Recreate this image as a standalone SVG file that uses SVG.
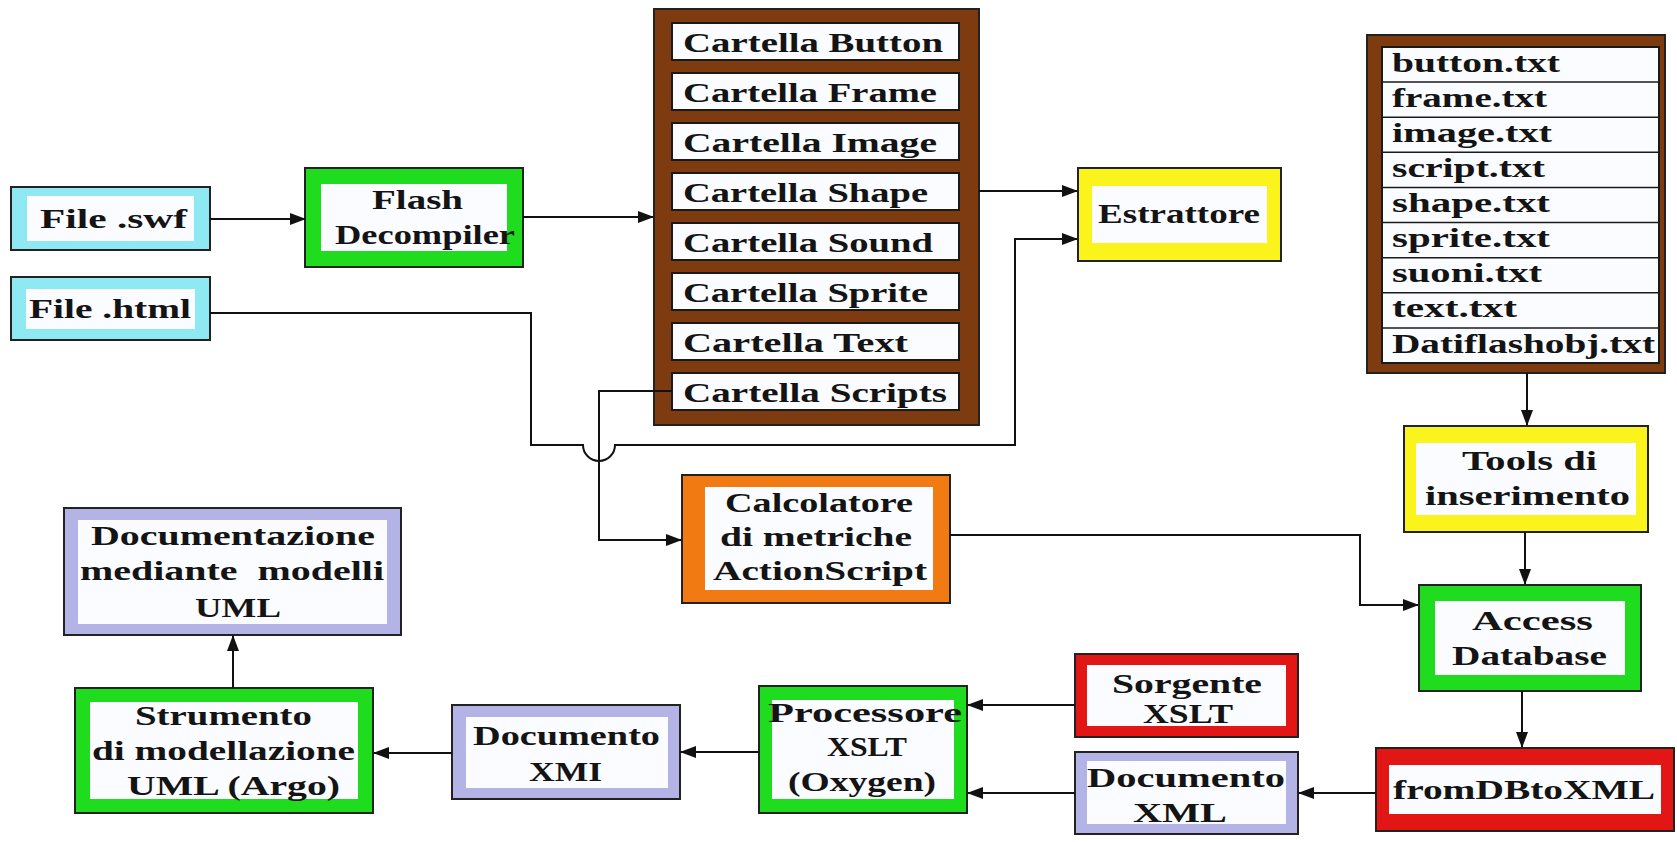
<svg xmlns="http://www.w3.org/2000/svg" width="1677" height="842" viewBox="0 0 1677 842">
  <defs>
    <marker id="arrow" markerUnits="userSpaceOnUse" markerWidth="16" markerHeight="12" refX="15" refY="6" orient="auto">
      <path d="M0,0 L16,6 L0,12 z" fill="#111"/>
    </marker>
    <style>
      .t { font-family: "Liberation Serif", "Times New Roman", serif; font-weight: bold; font-size: 27px; fill: #141414; }
      .frame { stroke: #222; stroke-width: 2; }
      .in { fill: #fbfcff; }
      .cyan { fill: #8ee9f2; }
      .green { fill: #1fdc1f; }
      .yellow { fill: #fbf41c; }
      .red { fill: #e31616; }
      .lav { fill: #b3b3e6; }
      .orange { fill: #f27a12; }
      .brown { fill: #7d3b0f; }
      .row { fill: #fbfcff; stroke: #1a1a1a; stroke-width: 2; }
      .sep { stroke: #1a1a1a; stroke-width: 1.5; }
      .wire { fill: none; stroke: #111; stroke-width: 2; }
    </style>
  </defs>

  <rect width="1677" height="842" fill="#ffffff"/>

  <!-- Sources -->
  <g id="file-swf">
    <rect class="frame cyan" x="11" y="187" width="199" height="63"/>
    <rect class="in" x="27" y="196" width="167" height="45"/>
    <text class="t" x="40" y="228" textLength="147" lengthAdjust="spacingAndGlyphs">File .swf</text>
  </g>

  <g id="file-html">
    <rect class="frame cyan" x="11" y="277" width="199" height="63"/>
    <rect class="in" x="26" y="289" width="169" height="40"/>
    <text class="t" x="29" y="318" textLength="162" lengthAdjust="spacingAndGlyphs">File .html</text>
  </g>

  <g id="flash-decompiler">
    <rect class="frame green" x="305" y="168" width="218" height="99"/>
    <rect class="in" x="321" y="184" width="186" height="67"/>
    <text class="t" x="372" y="209" textLength="91" lengthAdjust="spacingAndGlyphs">Flash</text>
    <text class="t" x="335" y="244" textLength="180" lengthAdjust="spacingAndGlyphs">Decompiler</text>
  </g>

  <!-- Folder list produced by the decompiler -->
  <g id="cartelle">
    <rect class="frame brown" x="654" y="9" width="325" height="416"/>
    <rect class="row" x="672" y="23" width="287" height="37"/>
    <rect class="row" x="672" y="73" width="287" height="37"/>
    <rect class="row" x="672" y="123" width="287" height="37"/>
    <rect class="row" x="672" y="173" width="287" height="37"/>
    <rect class="row" x="672" y="223" width="287" height="37"/>
    <rect class="row" x="672" y="273" width="287" height="37"/>
    <rect class="row" x="672" y="323" width="287" height="37"/>
    <rect class="row" x="672" y="373" width="287" height="37"/>
    <text class="t" x="683" y="52" textLength="260" lengthAdjust="spacingAndGlyphs">Cartella Button</text>
    <text class="t" x="683" y="102" textLength="254" lengthAdjust="spacingAndGlyphs">Cartella Frame</text>
    <text class="t" x="683" y="152" textLength="254" lengthAdjust="spacingAndGlyphs">Cartella Image</text>
    <text class="t" x="683" y="202" textLength="245" lengthAdjust="spacingAndGlyphs">Cartella Shape</text>
    <text class="t" x="683" y="252" textLength="250" lengthAdjust="spacingAndGlyphs">Cartella Sound</text>
    <text class="t" x="683" y="302" textLength="245" lengthAdjust="spacingAndGlyphs">Cartella Sprite</text>
    <text class="t" x="683" y="352" textLength="225" lengthAdjust="spacingAndGlyphs">Cartella Text</text>
    <text class="t" x="683" y="402" textLength="264" lengthAdjust="spacingAndGlyphs">Cartella Scripts</text>
  </g>

  <g id="estrattore">
    <rect class="frame yellow" x="1078" y="168" width="203" height="93"/>
    <rect class="in" x="1092" y="186" width="175" height="57"/>
    <text class="t" x="1098" y="223" textLength="162" lengthAdjust="spacingAndGlyphs">Estrattore</text>
  </g>

  <!-- Text files written by the extractor -->
  <g id="file-txt">
    <rect class="frame brown" x="1367" y="35" width="298" height="338"/>
    <rect class="row" x="1382" y="47" width="277" height="316"/>
    <line class="sep" x1="1382" y1="82.1" x2="1659" y2="82.1"/>
    <line class="sep" x1="1382" y1="117.2" x2="1659" y2="117.2"/>
    <line class="sep" x1="1382" y1="152.3" x2="1659" y2="152.3"/>
    <line class="sep" x1="1382" y1="187.4" x2="1659" y2="187.4"/>
    <line class="sep" x1="1382" y1="222.6" x2="1659" y2="222.6"/>
    <line class="sep" x1="1382" y1="257.7" x2="1659" y2="257.7"/>
    <line class="sep" x1="1382" y1="292.8" x2="1659" y2="292.8"/>
    <line class="sep" x1="1382" y1="327.9" x2="1659" y2="327.9"/>
    <text class="t" x="1392" y="72" textLength="168" lengthAdjust="spacingAndGlyphs">button.txt</text>
    <text class="t" x="1392" y="107" textLength="155" lengthAdjust="spacingAndGlyphs">frame.txt</text>
    <text class="t" x="1392" y="142" textLength="160" lengthAdjust="spacingAndGlyphs">image.txt</text>
    <text class="t" x="1392" y="177" textLength="153" lengthAdjust="spacingAndGlyphs">script.txt</text>
    <text class="t" x="1392" y="212" textLength="158" lengthAdjust="spacingAndGlyphs">shape.txt</text>
    <text class="t" x="1392" y="247" textLength="158" lengthAdjust="spacingAndGlyphs">sprite.txt</text>
    <text class="t" x="1392" y="282" textLength="150" lengthAdjust="spacingAndGlyphs">suoni.txt</text>
    <text class="t" x="1392" y="317" textLength="125" lengthAdjust="spacingAndGlyphs">text.txt</text>
    <text class="t" x="1392" y="353" textLength="263" lengthAdjust="spacingAndGlyphs">Datiflashobj.txt</text>
  </g>

  <g id="tools-inserimento">
    <rect class="frame yellow" x="1404" y="426" width="244" height="106"/>
    <rect class="in" x="1416" y="443" width="220" height="72"/>
    <text class="t" x="1462" y="470" textLength="135" lengthAdjust="spacingAndGlyphs">Tools di</text>
    <text class="t" x="1425" y="505" textLength="205" lengthAdjust="spacingAndGlyphs">inserimento</text>
  </g>

  <g id="access-database">
    <rect class="frame green" x="1419" y="585" width="222" height="106"/>
    <rect class="in" x="1435" y="601" width="190" height="74"/>
    <text class="t" x="1472" y="630" textLength="121" lengthAdjust="spacingAndGlyphs">Access</text>
    <text class="t" x="1452" y="665" textLength="155" lengthAdjust="spacingAndGlyphs">Database</text>
  </g>

  <g id="from-db-to-xml">
    <rect class="frame red" x="1376" y="748" width="298" height="83"/>
    <rect class="in" x="1389" y="765" width="272" height="49"/>
    <text class="t" x="1393" y="799" textLength="262" lengthAdjust="spacingAndGlyphs">fromDBtoXML</text>
  </g>

  <g id="sorgente-xslt">
    <rect class="frame red" x="1075" y="654" width="223" height="83"/>
    <rect class="in" x="1087" y="665" width="199" height="61"/>
    <text class="t" x="1112" y="693" textLength="150" lengthAdjust="spacingAndGlyphs">Sorgente</text>
    <text class="t" x="1143" y="723" textLength="90" lengthAdjust="spacingAndGlyphs">XSLT</text>
  </g>

  <g id="documento-xml">
    <rect class="frame lav" x="1075" y="752" width="223" height="82"/>
    <rect class="in" x="1087" y="761" width="199" height="63"/>
    <text class="t" x="1087" y="787" textLength="198" lengthAdjust="spacingAndGlyphs">Documento</text>
    <text class="t" x="1133" y="822" textLength="94" lengthAdjust="spacingAndGlyphs">XML</text>
  </g>

  <g id="processore-xslt">
    <rect class="frame green" x="759" y="686" width="208" height="127"/>
    <rect class="in" x="772" y="700" width="182" height="99"/>
    <text class="t" x="768" y="722" textLength="194" lengthAdjust="spacingAndGlyphs">Processore</text>
    <text class="t" x="827" y="756" textLength="80" lengthAdjust="spacingAndGlyphs">XSLT</text>
    <text class="t" x="788" y="791" textLength="148" lengthAdjust="spacingAndGlyphs">(Oxygen)</text>
  </g>

  <g id="documento-xmi">
    <rect class="frame lav" x="452" y="705" width="228" height="94"/>
    <rect class="in" x="466" y="717" width="202" height="71"/>
    <text class="t" x="473" y="745" textLength="187" lengthAdjust="spacingAndGlyphs">Documento</text>
    <text class="t" x="529" y="781" textLength="73" lengthAdjust="spacingAndGlyphs">XMI</text>
  </g>

  <g id="strumento-uml">
    <rect class="frame green" x="75" y="688" width="298" height="125"/>
    <rect class="in" x="90" y="702" width="268" height="97"/>
    <text class="t" x="135" y="725" textLength="177" lengthAdjust="spacingAndGlyphs">Strumento</text>
    <text class="t" x="92" y="760" textLength="263" lengthAdjust="spacingAndGlyphs">di modellazione</text>
    <text class="t" x="127" y="795" textLength="213" lengthAdjust="spacingAndGlyphs">UML (Argo)</text>
  </g>

  <g id="documentazione-uml">
    <rect class="frame lav" x="64" y="508" width="337" height="127"/>
    <rect class="in" x="78" y="520" width="309" height="104"/>
    <text class="t" x="91" y="545" textLength="284" lengthAdjust="spacingAndGlyphs">Documentazione</text>
    <text class="t" x="80" y="580" textLength="304" lengthAdjust="spacingAndGlyphs" xml:space="preserve">mediante  modelli</text>
    <text class="t" x="195" y="617" textLength="86" lengthAdjust="spacingAndGlyphs">UML</text>
  </g>

  <g id="calcolatore-metriche">
    <rect class="frame orange" x="682" y="475" width="268" height="128"/>
    <rect class="in" x="705" y="487" width="228" height="103"/>
    <text class="t" x="725" y="512" textLength="188" lengthAdjust="spacingAndGlyphs">Calcolatore</text>
    <text class="t" x="720" y="546" textLength="192" lengthAdjust="spacingAndGlyphs">di metriche</text>
    <text class="t" x="713" y="580" textLength="214" lengthAdjust="spacingAndGlyphs">ActionScript</text>
  </g>

  <!-- Connectors -->
  <g id="connectors">
    <path class="wire" d="M210,219 H305" marker-end="url(#arrow)"/>
    <path class="wire" d="M523,217 H653" marker-end="url(#arrow)"/>
    <path class="wire" d="M979,191 H1077" marker-end="url(#arrow)"/>
    <path class="wire" d="M210,313 H531 V445 H583 A16,16 0 0 0 615,445 H1015 V239 H1077" marker-end="url(#arrow)"/>
    <path class="wire" d="M672,391 H599 V540 H681" marker-end="url(#arrow)"/>
    <path class="wire" d="M950,535 H1360 V605 H1418" marker-end="url(#arrow)"/>
    <path class="wire" d="M1527,373 V425" marker-end="url(#arrow)"/>
    <path class="wire" d="M1525,532 V584" marker-end="url(#arrow)"/>
    <path class="wire" d="M1522,691 V747" marker-end="url(#arrow)"/>
    <path class="wire" d="M1376,793 H1299" marker-end="url(#arrow)"/>
    <path class="wire" d="M1075,793 H968" marker-end="url(#arrow)"/>
    <path class="wire" d="M1075,705 H968" marker-end="url(#arrow)"/>
    <path class="wire" d="M759,752 H681" marker-end="url(#arrow)"/>
    <path class="wire" d="M452,753 H374" marker-end="url(#arrow)"/>
    <path class="wire" d="M233,688 V636" marker-end="url(#arrow)"/>
  </g>
</svg>
